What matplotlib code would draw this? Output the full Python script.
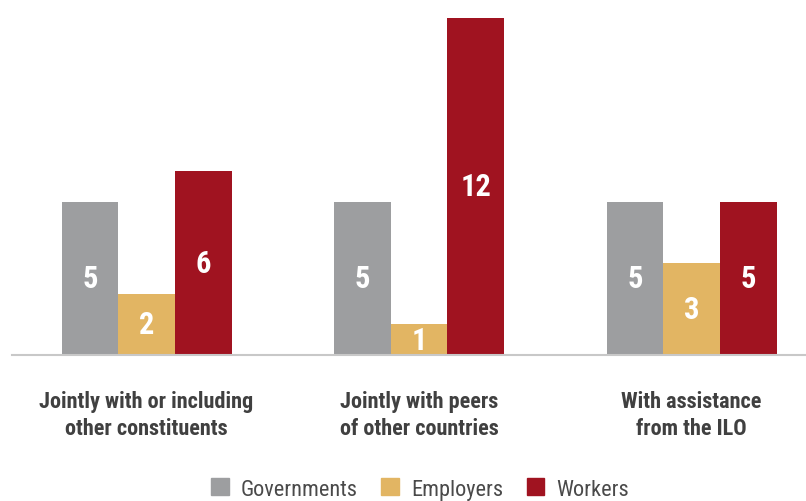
import numpy as np
import matplotlib
matplotlib.use("Agg")
import matplotlib.pyplot as plt
from matplotlib.patches import Patch

# data
categories = ["Jointly with or including\nother constituents",
              "Jointly with peers\nof other countries",
              "With assistance\nfrom the ILO"]
series = ["Governments", "Employers", "Workers"]
governments = [5, 5, 5]
employers = [2, 1, 3]
workers = [6, 12, 5]
colors = ["#9d9ea0", "#e2b563", "#a01320"]

plt.rcParams['font.family'] = ['Roboto Condensed', 'Liberation Sans Narrow',
                               'DejaVu Sans Condensed', 'DejaVu Sans']
text_col = "#404040"

fig = plt.figure(figsize=(8.06, 5.02), dpi=100)
ax = fig.add_axes([12/806, 146/502, 794/806, 337/502])

x = np.arange(len(categories))
w = 0.208
ymax = 11.0
for i, (vals, c) in enumerate(zip([governments, employers, workers], colors)):
    pos = x + (i - 1) * w
    ax.bar(pos, vals, width=w, color=c, zorder=2)
    for p, v in zip(pos, vals):
        # label sits in the middle of the visible part of the bar
        ax.text(p, min(v, ymax) / 2, str(v), ha='center', va='center',
                color='white', fontsize=22, fontweight='bold',
                fontstretch='condensed')

ax.set_xlim(-0.494, 2.42)
ax.set_ylim(0, ymax)
for s in ['top', 'right', 'left']:
    ax.spines[s].set_visible(False)
ax.spines['bottom'].set_color('#c8c8c8')
ax.spines['bottom'].set_linewidth(1.5)
ax.set_yticks([])
ax.set_xticks(x)
ax.set_xticklabels(categories, fontsize=16, fontweight='bold', color=text_col,
                   linespacing=1.3, fontstretch='condensed')
ax.tick_params(axis='x', length=0, pad=25)

handles = [Patch(color=c, label=s) for s, c in zip(series, colors)]
fig.legend(handles=handles, loc='center', bbox_to_anchor=(420/806, 1 - 490/502),
           ncol=3, frameon=False, labelcolor="#4a4a4a",
           handlelength=0.8, handleheight=0.8, handletextpad=0.55,
           columnspacing=1.05, prop={'size': 16, 'stretch': 'condensed'})

fig.savefig("out.png", dpi=100)
